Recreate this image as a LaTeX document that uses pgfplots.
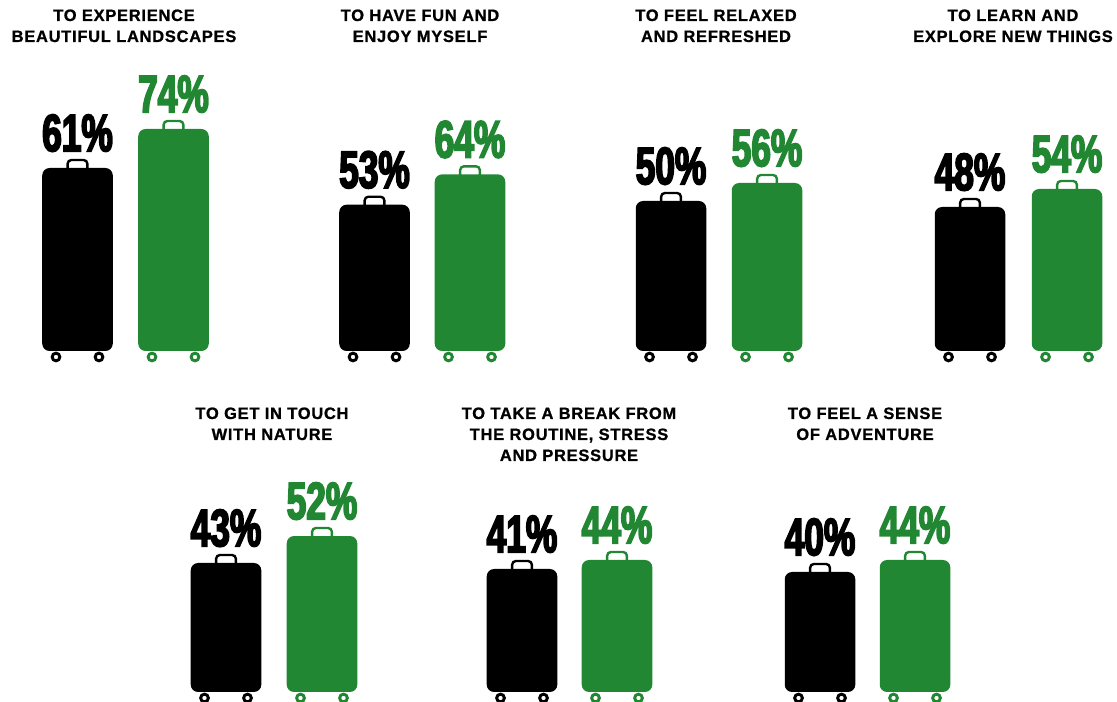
\documentclass[border=0pt]{standalone}
\usepackage{pgfplots}
\pgfplotsset{compat=1.18}
\usepackage{fontspec}
\setmainfont{Liberation Sans}
\newfontfamily\headfont[LetterSpace=4.5,FakeBold=1]{Liberation Sans Bold}
\newfontfamily\pctfont[FakeStretch=0.67,FakeBold=3.2]{Liberation Sans Bold}
\definecolor{leaf}{RGB}{34,135,50}

% Suitcase handle, sitting on the top edge of a bar
\pgfdeclareplotmark{casehandle}{%
  \draw[line width=1.8pt, rounded corners=2.8pt]
    (-7.4pt,-1pt) -- (-7.4pt,6pt) -- (7.4pt,6pt) -- (7.4pt,-1pt);%
}
% Ring-shaped wheel hanging below the bar foot
\pgfdeclareplotmark{casewheel}{%
  \draw[line width=2.2pt] (0pt,-4.5pt) circle[radius=2.9pt];%
}

\pgfplotsset{
  case/.style={
    ybar, bar width=52.9pt, bar shift=0pt, fill=#1, draw=none, rounded corners=5.5pt,
    nodes near coords={\pgfmathprintnumber{\pgfplotspointmeta}\%},
    point meta=y,
    every node near coord/.style={anchor=base, yshift=12.6pt, inner sep=0pt,
      font=\pctfont\fontsize{39.5pt}{39.5pt}\selectfont, text=#1},
  },
}

% One survey reason: bar centres, baseline, points per percent and both shares
\newcommand{\reason}[6]{%
  \begin{axis}[
    at={(0pt,{(702-#3)*0.75pt})}, anchor=south west,
    scale only axis, width=837.75pt, height={80*#4*0.75pt},
    xmin=0, xmax=1117, ymin=0, ymax=80,
    hide axis, clip=false,
    /pgf/number format/assume math mode=true,
  ]
    \addplot[case=black] coordinates {(#1,#5)};
    \addplot[case=leaf] coordinates {(#2,#6)};
    \addplot[only marks, mark=casehandle, mark options={draw=black}, black] coordinates {(#1,#5)};
    \addplot[only marks, mark=casehandle, mark options={draw=leaf}, leaf] coordinates {(#2,#6)};
    \addplot[only marks, mark=casewheel, black] coordinates {({#1-21.5},0) ({#1+21.5},0)};
    \addplot[only marks, mark=casewheel, leaf] coordinates {({#2-21.5},0) ({#2+21.5},0)};
  \end{axis}%
}
\newcommand{\headline}[3]{%
  \node[anchor=base, inner sep=0pt, font=\headfont\fontsize{12.35pt}{12.35pt}\selectfont]
    at ({#1*0.75pt},{(702-#2)*0.75pt}) {#3};%
}

\begin{document}
\begin{tikzpicture}
  \path[use as bounding box] (0pt,0pt) rectangle (837.75pt,526.5pt);

  \reason{77.5}{173.5}{351}{3}{61}{74}
  \reason{374.5}{470}{351}{2.76}{53}{64}
  \reason{671}{767}{351}{3}{50}{56}
  \reason{970}{1067}{351}{3}{48}{54}
  \reason{226}{322}{692}{3}{43}{52}
  \reason{522}{617}{692}{3}{41}{44}
  \reason{820}{915}{692}{3}{40}{44}

  \headline{124}{21}{TO EXPERIENCE}
  \headline{124}{42}{BEAUTIFUL LANDSCAPES}
  \headline{420}{21}{TO HAVE FUN AND}
  \headline{420}{42}{ENJOY MYSELF}
  \headline{716}{21}{TO FEEL RELAXED}
  \headline{716}{42}{AND REFRESHED}
  \headline{1013}{21}{TO LEARN AND}
  \headline{1013}{42}{EXPLORE NEW THINGS}
  \headline{272}{419}{TO GET IN TOUCH}
  \headline{272}{440}{WITH NATURE}
  \headline{569}{419}{TO TAKE A BREAK FROM}
  \headline{569}{440}{THE ROUTINE, STRESS}
  \headline{569}{461}{AND PRESSURE}
  \headline{865}{419}{TO FEEL A SENSE}
  \headline{865}{440}{OF ADVENTURE}
\end{tikzpicture}
\end{document}
